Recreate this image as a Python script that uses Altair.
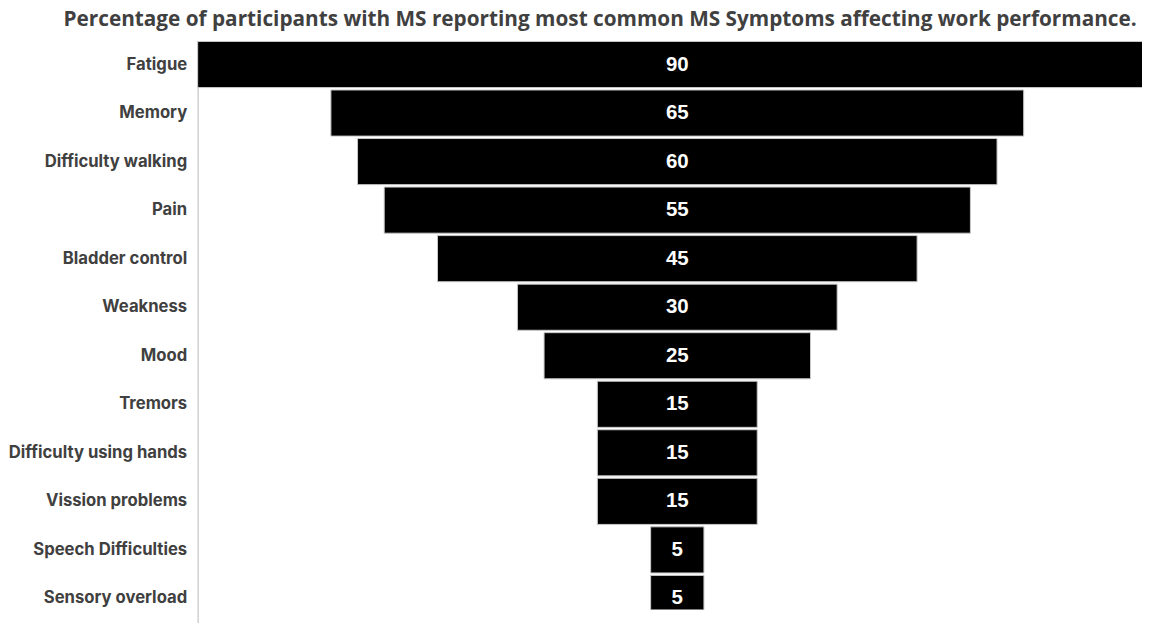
import altair as alt
import pandas as pd

symptoms = ["Fatigue", "Memory", "Difficulty walking", "Pain", "Bladder control",
            "Weakness", "Mood", "Tremors", "Difficulty using hands",
            "Vission problems", "Speech Difficulties", "Sensory overload"]
percent = [90, 65, 60, 55, 45, 30, 25, 15, 15, 15, 5, 5]

df = pd.DataFrame({"symptom": symptoms, "pct": percent})

base = alt.Chart(df).transform_calculate(
    lo="-datum.pct/2", hi="datum.pct/2", mid="0"
)

y_scale = alt.Scale(paddingInner=0.05, paddingOuter=0.02, range=[0, 583])

y_enc = alt.Y("symptom:N", sort=symptoms, scale=y_scale,
              axis=alt.Axis(title=None, ticks=False, domain=True, domainColor="#d0d0d0",
                            domainWidth=1.5, labelFont="Inter", labelFontWeight="bold",
                            labelFontSize=16.7, labelColor="#404040", labelPadding=11,
                            labelLimit=300))

bars = base.mark_bar(color="black", stroke="#c8c8c8", strokeWidth=1, clip=True).encode(
    y=y_enc,
    x=alt.X("lo:Q", scale=alt.Scale(domain=[-45, 43.6], nice=False, zero=False), axis=None),
    x2="hi:Q",
)

labels = base.mark_text(color="white", font="Liberation Sans", fontWeight="bold",
                        fontSize=20.5).encode(
    y=alt.Y("symptom:N", sort=symptoms),
    x=alt.X("mid:Q"),
    text=alt.Text("pct:Q"),
)

chart = (bars + labels).properties(
    width=946, height=570,
    padding={"left": 0, "top": 0, "right": 0, "bottom": 0},
    title=alt.TitleParams(
        "Percentage of participants with MS reporting most common MS Symptoms affecting work performance.",
        font="Open Sans", fontSize=20.8, fontWeight="bold", color="#404040",
        anchor="middle", frame="bounds", offset=10, dx=25,
    ),
).configure_view(stroke=None)

chart.save("out.html", embed_options={"renderer": "svg", "actions": False})
